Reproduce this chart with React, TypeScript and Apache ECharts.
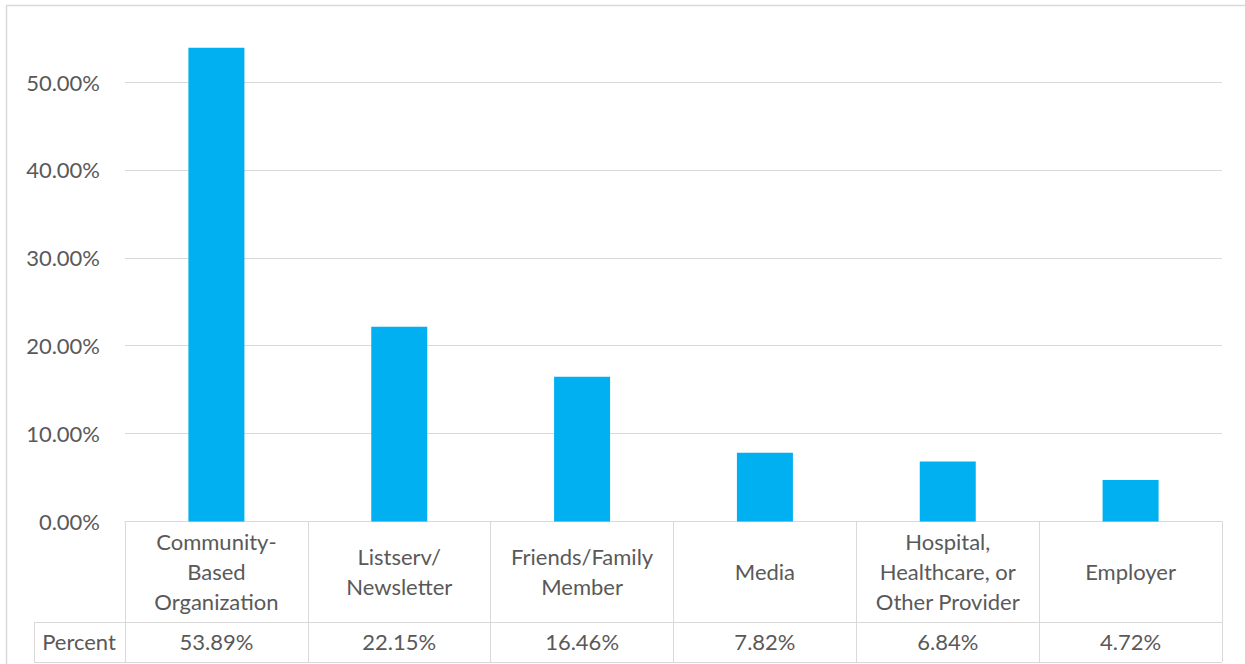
import React, { useEffect, useRef } from "react";
import * as echarts from "echarts";

const categories = [
  "Community-\nBased\nOrganization",
  "Listserv/\nNewsletter",
  "Friends/Family\nMember",
  "Media",
  "Hospital,\nHealthcare, or\nOther Provider",
  "Employer",
];
const percentValues = [53.89, 22.15, 16.46, 7.82, 6.84, 4.72];
const rowLabel = "Percent";

const FONT = "Lato, 'Liberation Sans', sans-serif";
const TEXT = "#595959";
const LINE = "#d9d9d9";
const FS = 22;
const OFF = 20; // container is shifted up by this many pixels
const W = 1245;
const H = 664 + OFF;

export default function App() {
  const ref = useRef<HTMLDivElement>(null);
  useEffect(() => {
    if (!ref.current) return;
    const chart = echarts.init(ref.current, null, { renderer: "svg" });
    const gridLeft = 125;
    const gridRight = 1222;
    const zeroY = 521.5 + OFF;
    const unit = (521.5 - 82) / 50; // px per percent
    const top = zeroY - 60 * unit;
    const row1Bottom = 622 + OFF;
    const tableBottom = 662 + OFF;
    const tableLeft = 34;
    const rowCenter = (zeroY + row1Bottom) / 2;
    chart.setOption({
      animation: false,
      backgroundColor: "#ffffff",
      grid: {
        left: gridLeft,
        right: W - gridRight,
        top: top,
        bottom: H - zeroY,
        containLabel: false,
      },
      xAxis: [
        {
          type: "category",
          data: categories,
          axisLine: { show: true, lineStyle: { color: LINE, width: 1 } },
          axisTick: { show: true, length: tableBottom - zeroY, lineStyle: { color: LINE, width: 1 } },
          axisLabel: {
            interval: 0,
            color: TEXT,
            fontFamily: FONT,
            fontSize: FS,
            lineHeight: 30,
            margin: rowCenter - zeroY,
            verticalAlign: "middle",
          },
        },
        {
          type: "category",
          position: "bottom",
          offset: 0,
          data: percentValues.map((v) => v.toFixed(2) + "%"),
          axisLine: { show: false },
          axisTick: { show: false },
          axisLabel: {
            interval: 0,
            color: TEXT,
            fontFamily: FONT,
            fontSize: FS,
            margin: 641 + OFF - zeroY,
            verticalAlign: "middle",
          },
        },
      ],
      yAxis: {
        type: "value",
        min: 0,
        max: 60,
        interval: 10,
        axisLine: { show: false },
        axisTick: { show: false },
        splitLine: { lineStyle: { color: LINE, width: 1 } },
        axisLabel: {
          color: TEXT,
          fontFamily: FONT,
          fontSize: FS,
          margin: 25,
          showMaxLabel: false,
          formatter: (v: number) => v.toFixed(2) + "%",
        },
      },
      series: [
        {
          type: "bar",
          data: percentValues,
          barWidth: 56,
          itemStyle: { color: "#00b0f0" },
        },
      ],
      graphic: [
        {
          type: "polyline",
          shape: { points: [[6.5, H], [6.5, 5.5 + OFF], [W, 5.5 + OFF]] },
          style: { stroke: LINE, lineWidth: 1.5, fill: "none" },
          silent: true,
        },
        {
          type: "line",
          shape: { x1: tableLeft, y1: row1Bottom + 0.5, x2: gridRight, y2: row1Bottom + 0.5 },
          style: { stroke: LINE, lineWidth: 1 },
        },
        {
          type: "line",
          shape: { x1: tableLeft, y1: tableBottom + 0.5, x2: gridRight, y2: tableBottom + 0.5 },
          style: { stroke: LINE, lineWidth: 1 },
        },
        {
          type: "line",
          shape: { x1: tableLeft + 0.5, y1: row1Bottom, x2: tableLeft + 0.5, y2: tableBottom },
          style: { stroke: LINE, lineWidth: 1 },
        },
        {
          type: "text",
          x: 79,
          y: 641 + OFF,
          style: {
            text: rowLabel,
            fill: TEXT,
            font: `${FS}px ${FONT}`,
            align: "center",
            verticalAlign: "middle",
          },
        },
      ],
    });
    return () => chart.dispose();
  }, []);
  return (
    <div
      ref={ref}
      style={{ position: "fixed", left: 0, top: -OFF, width: W, height: H }}
    />
  );
}
